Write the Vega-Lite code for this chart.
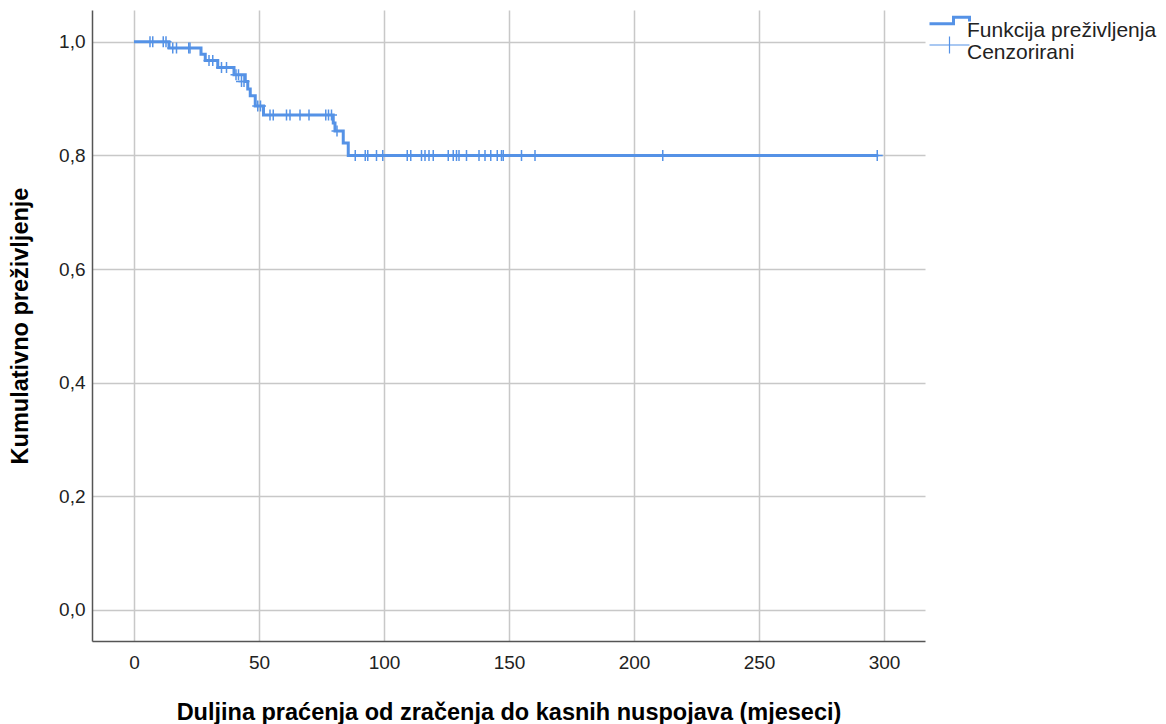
{
  "$schema": "https://vega.github.io/schema/vega-lite/v6.json",
  "width": 833,
  "height": 631,
  "autosize": {"type": "none"},
  "padding": {"left": 92, "top": 10, "right": 241, "bottom": 83},
  "background": "white",
  "datasets": {
    "steps": [
      {"t": 0, "s": 1.0},
      {"t": 14.0, "s": 0.989},
      {"t": 26.8, "s": 0.978},
      {"t": 28.5, "s": 0.967},
      {"t": 33.5, "s": 0.955},
      {"t": 40.0, "s": 0.942},
      {"t": 44.5, "s": 0.930},
      {"t": 45.5, "s": 0.917},
      {"t": 46.5, "s": 0.905},
      {"t": 48.5, "s": 0.887},
      {"t": 51.8, "s": 0.871},
      {"t": 79.7, "s": 0.857},
      {"t": 80.4, "s": 0.843},
      {"t": 83.7, "s": 0.822},
      {"t": 85.7, "s": 0.800},
      {"t": 297.7, "s": 0.800}
    ],
    "censored": [
      {"t": 6.4, "s": 1.0}, {"t": 7.5, "s": 1.0}, {"t": 11.7, "s": 1.0}, {"t": 12.8, "s": 1.0},
      {"t": 15.5, "s": 0.989}, {"t": 17.0, "s": 0.989}, {"t": 21.9, "s": 0.989}, {"t": 22.4, "s": 0.989},
      {"t": 30.0, "s": 0.967}, {"t": 31.5, "s": 0.967},
      {"t": 35.0, "s": 0.955}, {"t": 37.0, "s": 0.955},
      {"t": 40.8, "s": 0.942}, {"t": 41.8, "s": 0.942},
      {"t": 43.0, "s": 0.930}, {"t": 44.0, "s": 0.930},
      {"t": 49.5, "s": 0.887}, {"t": 50.6, "s": 0.887},
      {"t": 54.4, "s": 0.871}, {"t": 55.7, "s": 0.871}, {"t": 61.0, "s": 0.871}, {"t": 62.4, "s": 0.871},
      {"t": 66.4, "s": 0.871}, {"t": 70.0, "s": 0.871}, {"t": 76.7, "s": 0.871}, {"t": 77.8, "s": 0.871}, {"t": 79.0, "s": 0.871},
      {"t": 81.2, "s": 0.843},
      {"t": 88.5, "s": 0.8}, {"t": 92.5, "s": 0.8}, {"t": 93.5, "s": 0.8}, {"t": 97.0, "s": 0.8}, {"t": 99.5, "s": 0.8},
      {"t": 109.3, "s": 0.8}, {"t": 110.7, "s": 0.8}, {"t": 115.0, "s": 0.8}, {"t": 116.4, "s": 0.8}, {"t": 118.0, "s": 0.8},
      {"t": 119.7, "s": 0.8}, {"t": 125.7, "s": 0.8}, {"t": 127.7, "s": 0.8}, {"t": 129.0, "s": 0.8}, {"t": 130.0, "s": 0.8},
      {"t": 133.0, "s": 0.8}, {"t": 138.0, "s": 0.8}, {"t": 140.4, "s": 0.8}, {"t": 142.7, "s": 0.8}, {"t": 145.3, "s": 0.8},
      {"t": 147.0, "s": 0.8}, {"t": 147.7, "s": 0.8}, {"t": 155.0, "s": 0.8}, {"t": 160.4, "s": 0.8},
      {"t": 211.5, "s": 0.8}, {"t": 297.3, "s": 0.8}
    ],
    "legend": [
      {"series": "Funkcija preživljenja"},
      {"series": "Cenzorirani"}
    ]
  },
  "layer": [
    {
      "data": {"name": "steps"},
      "mark": {"type": "line", "interpolate": "step-after", "color": "#5592e6", "strokeWidth": 3},
      "encoding": {
        "x": {
          "field": "t", "type": "quantitative",
          "scale": {"domain": [-16.8, 316.4], "nice": false, "zero": false},
          "axis": {"values": [0, 50, 100, 150, 200, 250, 300], "title": "Duljina praćenja od zračenja do kasnih nuspojava (mjeseci)"}
        },
        "y": {
          "field": "s", "type": "quantitative",
          "scale": {"domain": [-0.0546, 1.056], "nice": false, "zero": false},
          "axis": {
            "values": [0, 0.2, 0.4, 0.6, 0.8, 1.0],
            "labelExpr": "replace(format(datum.value, '.1f'), '.', ',')",
            "title": "Kumulativno preživljenje"
          }
        }
      }
    },
    {
      "data": {"name": "censored"},
      "mark": {"type": "point", "shape": "M0,-1V1M-1,0H1", "size": 121, "filled": false, "color": "#5592e6", "strokeWidth": 1.5, "opacity": 1},
      "encoding": {
        "x": {"field": "t", "type": "quantitative"},
        "y": {"field": "s", "type": "quantitative"}
      }
    },
    {
      "data": {"name": "legend"},
      "mark": {"type": "point", "filled": false, "clip": true, "size": 400, "opacity": 1},
      "encoding": {
        "x": {"datum": -1000, "type": "quantitative"},
        "y": {"datum": -1000, "type": "quantitative"},
        "color": {
          "field": "series", "type": "nominal",
          "scale": {"domain": ["Funkcija preživljenja", "Cenzorirani"], "range": ["#5592e6", "#5592e6"]},
          "legend": {"title": null}
        },
        "shape": {
          "field": "series", "type": "nominal",
          "scale": {"domain": ["Funkcija preživljenja", "Cenzorirani"], "range": ["M-2,-0.67H0.4V-1.33H2V-0.9", "M-2,-0.8H2M0,-1.65V0.05"]},
          "legend": {"title": null}
        },
        "strokeWidth": {
          "field": "series", "type": "nominal",
          "scale": {"domain": ["Funkcija preživljenja", "Cenzorirani"], "range": [3, 1.2]},
          "legend": {"title": null}
        }
      }
    }
  ],
  "config": {
    "view": {"stroke": null},
    "font": "Liberation Sans",
    "axis": {
      "grid": true,
      "gridColor": "#c8c8c8",
      "gridWidth": 1.5,
      "domainColor": "#555555",
      "domainWidth": 1.5,
      "ticks": false,
      "tickSize": 0,
      "labelFont": "Liberation Sans",
      "labelFontSize": 19,
      "labelColor": "#222222",
      "titleFont": "Liberation Sans",
      "titleFontSize": 23.5,
      "titleFontWeight": "bold",
      "titleColor": "#000000"
    },
    "axisX": {"labelPadding": 12, "titleY": 78, "titleBaseline": "alphabetic"},
    "axisY": {"labelPadding": 7, "titleX": -60},
    "legend": {
      "orient": "none",
      "legendX": 846,
      "legendY": 9,
      "symbolSize": 400,
      "symbolFillColor": "transparent",
      "labelFont": "Liberation Sans",
      "labelFontSize": 21,
      "labelColor": "#222222",
      "labelOffset": 6,
      "labelLimit": 0,
      "labelBaseline": "middle",
      "rowPadding": -7,
      "padding": 0
    }
  }
}
